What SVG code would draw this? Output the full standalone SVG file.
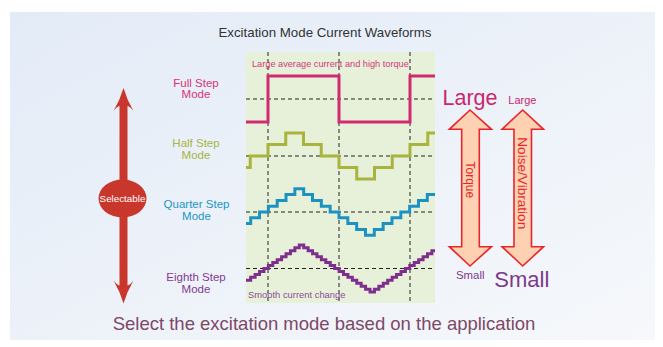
<svg xmlns="http://www.w3.org/2000/svg" width="663" height="347" viewBox="0 0 663 347">
<defs>
<linearGradient id="bg" x1="0" y1="0" x2="1" y2="1">
<stop offset="0" stop-color="#E3EBF7"/>
<stop offset="1" stop-color="#F6F8FB"/>
</linearGradient>
</defs>
<style>
text{font-family:"Liberation Sans",Arial,sans-serif}
.grid{stroke:#222;stroke-width:1;stroke-dasharray:4 3;fill:none}
.wave{fill:none;stroke-width:3;stroke-linejoin:miter}
.mode{font-size:11.5px;text-anchor:middle}
.big{stroke:#E8262A;stroke-width:1.6;fill:#FDD1B2;stroke-linejoin:miter}
</style>
<rect x="0" y="0" width="663" height="347" fill="#FFFFFF"/>
<rect x="10" y="12" width="645" height="328" fill="url(#bg)"/>
<text x="325" y="37" font-size="13.3" fill="#333" text-anchor="middle">Excitation Mode Current Waveforms</text>
<g id="chart">
<rect x="246" y="52" width="189" height="251" fill="#E7F1DA"/>
<g id="grid">
<path class="grid" d="M268,52V303M339,52V303M410,52V303"/>
<path class="grid" d="M246,99H435M246,156H435M246,212H435"/>
<path class="grid" d="M246,268.5H435" stroke="#666" stroke-width="1.6"/>
</g>
<text x="252" y="67" font-size="9.2" fill="#D3377A">Large average current and high torque</text>
<text x="248" y="297.5" font-size="9.4" fill="#8E4C98">Smooth current change</text>
</g>
<g id="full-step">
<path class="wave" stroke="#D02A72" d="M246,122H268V76H339V122H410V76H435"/>
<text class="mode" x="196" y="86.5" fill="#D6337A">Full Step</text>
<text class="mode" x="196" y="97.5" fill="#D6337A">Mode</text>
</g>
<g id="half-step">
<path class="wave" stroke="#A9B43C" d="M246,167.5H250.25V156H268V144.5H285.75V133H303.5V144.5H321.25V156H339V167.5H356.75V179H374.5V167.5H392.25V156H410V144.5H427.75V133H435"/>
<text class="mode" x="196" y="147" fill="#A9B43C">Half Step</text>
<text class="mode" x="196" y="159" fill="#A9B43C">Mode</text>
</g>
<g id="quarter-step">
<path class="wave" stroke="#1C92C2" d="M246,223.6H250.7V217.8H259.53V212H268.36V206.2H277.19V200.4H286.02V194.6H294.85V188.8H303.68V194.6H312.51V200.4H321.34V206.2H330.17V212H339V217.8H347.83V223.6H356.66V229.4H365.49V235.2H374.32V229.4H383.15V223.6H391.98V217.8H400.81V212H409.64V206.2H418.47V200.4H427.3V194.6H435"/>
<text class="mode" x="196.5" y="208" fill="#2196C6">Quarter Step</text>
<text class="mode" x="196.5" y="219.5" fill="#2196C6">Mode</text>
</g>
<g id="eighth-step">
<path class="wave" stroke="#7E2E8C" d="M246,280.3H250.68V277.35H255.1V274.4H259.52V271.45H263.94V268.5H268.36V265.55H272.78V262.6H277.2V259.65H281.62V256.7H286.04V253.75H290.46V250.8H294.88V247.85H299.3V244.9H303.72V247.85H308.14V250.8H312.56V253.75H316.98V256.7H321.4V259.65H325.82V262.6H330.24V265.55H334.66V268.5H339.08V271.45H343.5V274.4H347.92V277.35H352.34V280.3H356.76V283.25H361.18V286.2H365.6V289.15H370.02V292.1H374.44V289.15H378.86V286.2H383.28V283.25H387.7V280.3H392.12V277.35H396.54V274.4H400.96V271.45H405.38V268.5H409.8V265.55H414.22V262.6H418.64V259.65H423.06V256.7H427.48V253.75H431.9V250.8H435"/>
<text class="mode" x="196" y="281" fill="#843A91">Eighth Step</text>
<text class="mode" x="196" y="293" fill="#843A91">Mode</text>
</g>
<g id="selectable">
<path fill="#C9372C" d="M123.5,88Q127,100 133.5,111Q130,106.5 127.5,106L127.5,285.5Q130,285 133.5,280.5Q127,291.5 123.5,303.5Q120,291.5 113.5,280.5Q117,285 119.5,285.5L119.5,106Q117,106.5 113.5,111Q120,100 123.5,88Z"/>
<ellipse cx="122.5" cy="198.5" rx="24" ry="19" fill="#C9372C"/>
<text x="122.5" y="202" font-size="9.8" fill="#FFFFFF" text-anchor="middle">Selectable</text>
</g>
<g id="torque">
<path class="big" d="M470,110L491.5,129.3H479.3V246.7H491.5L470,266L449.3,246.7H461.7V129.3H449.3Z"/>
<text transform="translate(470.5,161.5) rotate(90)" x="0" y="4.2" font-size="12" fill="#E8262A">Torque</text>
<text x="442.5" y="105" font-size="21.5" fill="#C8286E">Large</text>
<text x="456" y="278.7" font-size="11.4" fill="#7E3A8A">Small</text>
</g>
<g id="noise">
<path class="big" d="M522.7,110L543.6,129.3H531.5V246.7H543.6L522.7,266L502,246.7H514V129.3H502Z"/>
<text transform="translate(522.7,137.3) rotate(90)" x="0" y="4.4" font-size="13.6" fill="#E8262A">Noise/Vibration</text>
<text x="508.3" y="104.3" font-size="11" fill="#C8286E">Large</text>
<text x="494.3" y="286.7" font-size="22" fill="#7E3A8A">Small</text>
</g>
<text x="324" y="330" font-size="18.5" fill="#7D4868" text-anchor="middle">Select the excitation mode based on the application</text>
</svg>
